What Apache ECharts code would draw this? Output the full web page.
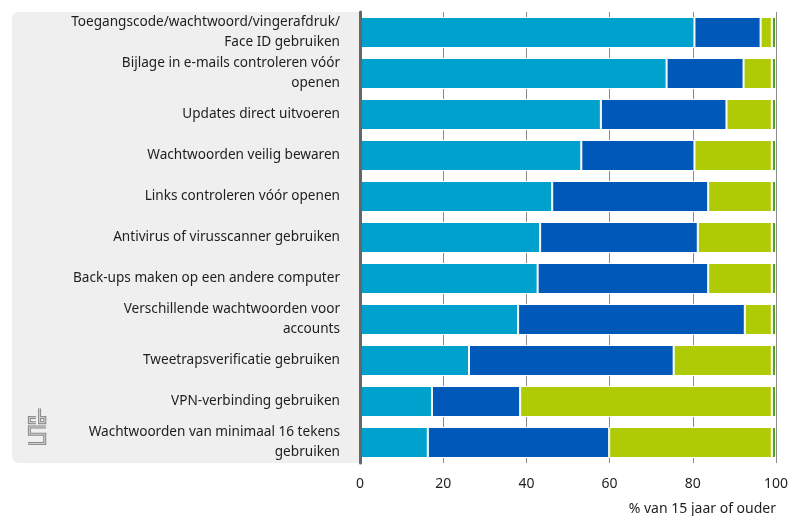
<!DOCTYPE html>
<html>
<head>
<meta charset="utf-8">
<script src="https://cdn.jsdelivr.net/npm/echarts@6/dist/echarts.min.js"></script>
<style>
  html, body { margin: 0; padding: 0; background: #ffffff; overflow: hidden; }
  #chart { width: 788px; height: 516px; }
</style>
</head>
<body>
<div id="chart"></div>
<script>
// Beveiligingsmaatregelen, % van 15 jaar of ouder
const categories = [
  'Toegangscode/wachtwoord/vingerafdruk/\nFace ID gebruiken',
  'Bijlage in e-mails controleren vóór\nopenen',
  'Updates direct uitvoeren',
  'Wachtwoorden veilig bewaren',
  'Links controleren vóór openen',
  'Antivirus of virusscanner gebruiken',
  'Back-ups maken op een andere computer',
  'Verschillende wachtwoorden voor\naccounts',
  'Tweetrapsverificatie gebruiken',
  'VPN-verbinding gebruiken',
  'Wachtwoorden van minimaal 16 tekens\ngebruiken'
];

const altijd   = [80.4, 73.7, 57.9, 53.2, 46.2, 43.3, 42.7, 38.0, 26.2, 17.3, 16.3];
const soms     = [15.9, 18.5, 30.2, 27.2, 37.5, 37.9, 41.0, 54.5, 49.2, 21.2, 43.6];
const nooit    = [2.7, 6.8, 10.9, 18.6, 15.3, 17.8, 15.3, 6.5, 23.6, 60.5, 39.1];
const weetNiet = [1.0, 1.0, 1.0, 1.0, 1.0, 1.0, 1.0, 1.0, 1.0, 1.0, 1.0];

const xTicks = { min: 0, max: 100, step: 20 };
const axisTitle = '% van 15 jaar of ouder';

const FONT = '"Noto Sans", sans-serif';
const TEXT = '#1e1e1e';

function barSeries(name, values, color) {
  return {
    name: name,
    type: 'bar',
    stack: 'totaal',
    data: values,
    barWidth: 31,
    itemStyle: { color: color, borderColor: '#ffffff', borderWidth: 1 },
    emphasis: { disabled: true },
    z: 3
  };
}

// CBS beeldmerk: drie lijnstukken, dubbel getekend voor de contourlijn
const logoStrokes = [
  [[35.8, 417.4], [29.4, 417.4], [29.4, 422.7], [35.8, 422.7]],
  [[39.6, 408.5], [39.6, 422.7], [44.8, 422.7], [44.8, 417.4], [39.6, 417.4]],
  [[46, 427], [29.4, 427], [29.4, 434.2], [44.7, 434.2], [44.7, 443.6], [28, 443.6]]
];

function logoElements() {
  const els = [];
  logoStrokes.forEach(function (pts) {
    els.push({
      type: 'polyline', z: -5, silent: true,
      shape: { points: pts },
      style: { fill: null, stroke: '#888888', lineWidth: 3, lineJoin: 'miter' }
    });
  });
  logoStrokes.forEach(function (pts) {
    els.push({
      type: 'polyline', z: -4, silent: true,
      shape: { points: pts },
      style: { fill: null, stroke: '#d6d6d6', lineWidth: 1, lineJoin: 'miter' }
    });
  });
  return els;
}

const chart = echarts.init(document.getElementById('chart'), null, { renderer: 'canvas' });

chart.setOption({
  animation: false,
  backgroundColor: '#ffffff',
  textStyle: { fontFamily: FONT },
  grid: {
    left: 360, right: 12, top: 12, bottom: 53,
    containLabel: false,
    outerBoundsMode: 'none'
  },
  graphic: [
    {
      type: 'rect',
      z: -10,
      silent: true,
      shape: { x: 12, y: 12, width: 348, height: 451, r: [7, 0, 0, 7] },
      style: { fill: '#efefef' }
    }
  ].concat(logoElements()),
  xAxis: {
    type: 'value',
    min: xTicks.min,
    max: xTicks.max,
    interval: xTicks.step,
    axisLine: { show: false },
    axisTick: { show: false },
    splitLine: { show: true, lineStyle: { color: '#8c8c8c', width: 1 } },
    axisLabel: { color: TEXT, fontSize: 14, fontFamily: FONT, margin: 14 },
    name: axisTitle,
    nameLocation: 'end',
    nameGap: 0,
    nameTextStyle: {
      color: TEXT, fontSize: 14, fontFamily: FONT,
      align: 'right', verticalAlign: 'top', padding: [39, 0, 0, 0]
    }
  },
  yAxis: {
    type: 'category',
    inverse: true,
    data: categories,
    axisLine: { show: true, onZero: false, lineStyle: { color: '#666666', width: 3 } },
    axisTick: { show: false },
    axisLabel: {
      color: TEXT, fontSize: 13.6, fontFamily: FONT,
      lineHeight: 20, margin: 20, align: 'right'
    },
    z: 5
  },
  series: [
    barSeries('Altijd', altijd, '#00a1cd'),
    barSeries('Soms', soms, '#0058b8'),
    barSeries('Nooit', nooit, '#afcb05'),
    barSeries('Weet niet', weetNiet, '#53a31d')
  ]
});
</script>
</body>
</html>
